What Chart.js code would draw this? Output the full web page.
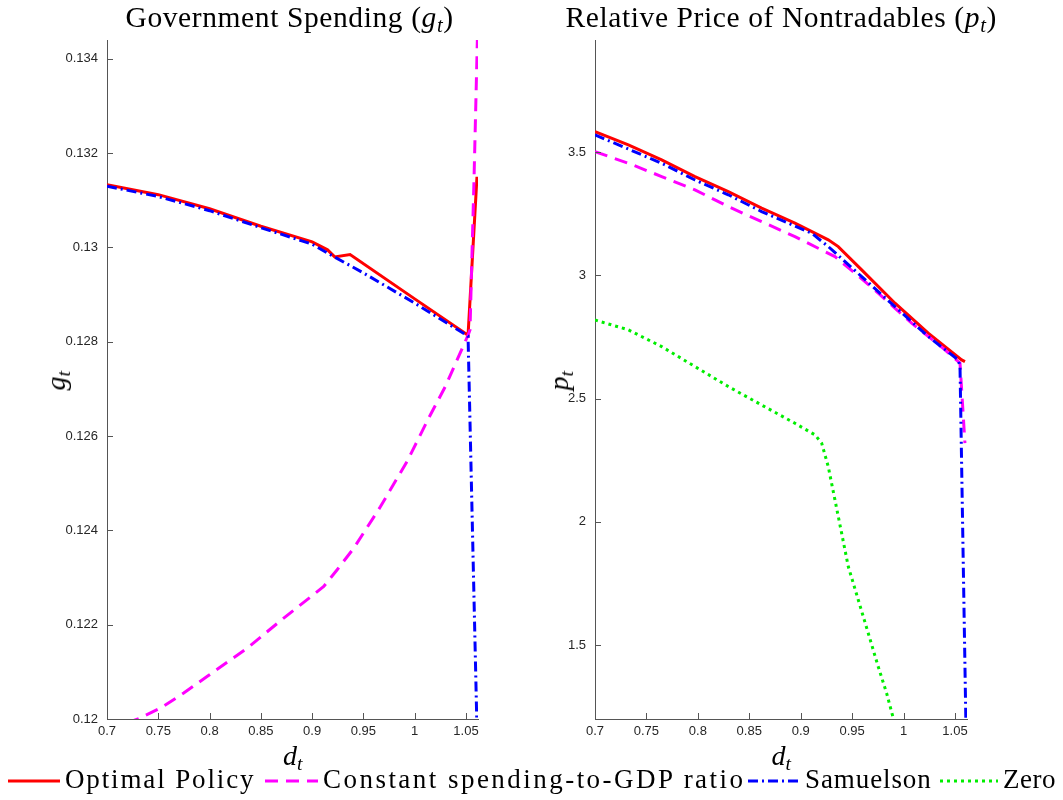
<!DOCTYPE html>
<html>
<head>
<meta charset="utf-8">
<script src="https://cdn.jsdelivr.net/npm/chart.js@4.4.1/dist/chart.umd.min.js"></script>
<style>
  html, body { margin: 0; padding: 0; background: #fff; }
  #wrap { position: relative; width: 1063px; height: 800px; overflow: hidden; background: #fff; }
  canvas { position: absolute; top: 0; }
  .tx { position: absolute; font-family: "Liberation Serif", "Times New Roman", serif; color: #000; white-space: nowrap; line-height: 1; }
  .tx sub { font-size: 70%; vertical-align: -0.25em; }
  .ttl { font-size: 29.5px; letter-spacing: 0.6px; }
  .ax { font-size: 28px; }
  .lg { font-size: 27px; letter-spacing: 0.8px; top: 766px; }
  #legend svg { position: absolute; top: 770px; }
</style>
</head>
<body>
<div id="wrap">
  <canvas id="cg" width="530" height="800" style="left:0px"></canvas>
  <canvas id="cp" width="533" height="800" style="left:530px"></canvas>

  <div class="tx ttl" id="tg">Government Spending (<i>g<sub>t</sub></i>)</div>
  <div class="tx ttl" id="tp">Relative Price of Nontradables (<i>p<sub>t</sub></i>)</div>
  <div class="tx ax" id="xg"><i>d<sub>t</sub></i></div>
  <div class="tx ax" id="xp"><i>d<sub>t</sub></i></div>
  <div class="tx ax" id="yg" style="transform: rotate(-90deg); transform-origin: center;"><i>g<sub>t</sub></i></div>
  <div class="tx ax" id="yp" style="transform: rotate(-90deg); transform-origin: center;"><i>p<sub>t</sub></i></div>
  <div id="legend"></div>
</div>

<script>
// ---- series names ----
const seriesNames = ['Optimal Policy', 'Constant spending-to-GDP ratio', 'Samuelson', 'Zero'];

// ---- tick labels ----
const dTicks = [0.7, 0.75, 0.8, 0.85, 0.9, 0.95, 1.0, 1.05];
const gTicks = [0.12, 0.122, 0.124, 0.126, 0.128, 0.13, 0.132, 0.134];
const pTicks = [1.5, 2, 2.5, 3, 3.5];

// ---- Government spending g_t against debt d_t ----
const dOptG = [0.7, 0.75, 0.8, 0.85, 0.9, 0.915, 0.922, 0.937, 1.0, 1.052, 1.0607];
const gOpt  = [0.13133, 0.13112, 0.13082, 0.13045, 0.13012, 0.12995, 0.12980, 0.12985, 0.12891, 0.12814, 0.13150];

const dConG = [0.7, 0.7309, 0.752, 0.7748, 0.7975, 0.8365, 0.8723, 0.9113, 0.9242, 0.9405, 0.9665, 0.9925, 1.0136, 1.0298, 1.052, 1.0539, 1.0556, 1.0578, 1.061, 1.0617];
const gCon  = [0.11975, 0.12001, 0.12023, 0.12055, 0.12090, 0.12150, 0.12214, 0.12281, 0.12316, 0.12362, 0.12450, 0.12546, 0.12638, 0.12705, 0.12814, 0.12825, 0.12967, 0.13143, 0.13434, 0.1350];

const dSamG = [0.7, 0.75, 0.8, 0.85, 0.9, 0.92, 0.95, 1.0, 1.052, 1.061];
const gSam  = [0.13130, 0.13108, 0.13078, 0.13042, 0.13007, 0.12982, 0.12946, 0.12882, 0.12812, 0.1195];

// ---- Relative price of nontradables p_t against debt d_t ----
const dOptP = [0.7, 0.7324, 0.7648, 0.7972, 0.8296, 0.862, 0.8944, 0.9268, 0.9365, 0.9593, 0.9917, 1.024, 1.0565, 1.0597];
const pOpt  = [3.5835, 3.5295, 3.4687, 3.4009, 3.340, 3.2726, 3.2118, 3.144, 3.1168, 3.0222, 2.887, 2.7653, 2.657, 2.650];

const dConP = [0.7, 0.7324, 0.7648, 0.7972, 0.8296, 0.862, 0.8944, 0.9204, 0.9333, 0.9528, 0.9754, 1.0079, 1.0403, 1.0549, 1.0565, 1.0581, 1.0597];
const pCon  = [3.502, 3.455, 3.401, 3.347, 3.279, 3.218, 3.157, 3.103, 3.076, 3.009, 2.928, 2.806, 2.698, 2.644, 2.535, 2.427, 2.319];

const dSamP = [0.7, 0.7648, 0.7972, 0.8296, 0.862, 0.8944, 0.9107, 0.9268, 0.9593, 0.9917, 1.024, 1.0532, 1.0549, 1.0606];
const pSam  = [3.570, 3.455, 3.387, 3.327, 3.259, 3.200, 3.171, 3.117, 2.995, 2.873, 2.752, 2.657, 2.630, 1.19];

const dZero = [0.7, 0.7324, 0.7648, 0.7972, 0.8296, 0.862, 0.8944, 0.9139, 0.9204, 0.9268, 0.9333, 0.9398, 0.9463, 0.956, 0.9657, 0.9754, 0.9836, 0.99, 0.993];
const pZero = [2.819, 2.779, 2.711, 2.630, 2.549, 2.474, 2.400, 2.353, 2.319, 2.224, 2.089, 1.954, 1.818, 1.683, 1.548, 1.412, 1.304, 1.203, 1.15];

// ---- line styles per series ----
const lineColors = ['#ff0000', '#ff00ff', '#0000ff', '#00ee00'];
const lineDashes = [[], [13, 8], [10, 4, 2, 4], [3, 4]];
const drawOrder  = [4, 3, 2, 1];

const axisColor = '#555555';
const tickFont = { family: '"Liberation Sans", Arial, Helvetica, sans-serif', size: 13 };

function pts(xs, ys) { return xs.map((x, i) => ({ x: x, y: ys[i] })); }

function series(k, xs, ys) {
  return {
    label: seriesNames[k],
    data: pts(xs, ys),
    showLine: true,
    borderColor: lineColors[k],
    backgroundColor: lineColors[k],
    borderWidth: 3,
    borderDash: lineDashes[k],
    pointRadius: 0,
    fill: false,
    clip: 0,
    order: drawOrder[k]
  };
}

function fmt(v) { return String(parseFloat(Number(v).toFixed(4))); }

// small tick marks pointing into the plot area
const innerTicks = {
  id: 'innerTicks',
  afterDraw(chart) {
    const { ctx, chartArea, scales } = chart;
    ctx.save();
    ctx.strokeStyle = axisColor;
    ctx.lineWidth = 1;
    ctx.beginPath();
    scales.x.ticks.forEach(t => {
      const px = Math.round(scales.x.getPixelForValue(t.value)) + 0.5;
      ctx.moveTo(px, chartArea.bottom);
      ctx.lineTo(px, chartArea.bottom - 6);
    });
    scales.y.ticks.forEach(t => {
      const py = Math.round(scales.y.getPixelForValue(t.value)) + 0.5;
      ctx.moveTo(chartArea.left, py);
      ctx.lineTo(chartArea.left + 6, py);
    });
    ctx.stroke();
    ctx.restore();
  }
};

function makeChart(id, datasets, yMin, yMax, yTicks, axisW, padRight) {
  return new Chart(document.getElementById(id), {
    type: 'scatter',
    data: { datasets: datasets },
    options: {
      responsive: false,
      animation: false,
      events: [],
      layout: { padding: { left: 0, right: padRight, top: 40, bottom: 0 } },
      plugins: { legend: { display: false }, tooltip: { enabled: false }, title: { display: false } },
      scales: {
        x: {
          type: 'linear', min: 0.7, max: 1.0617,
          afterBuildTicks: s => { s.ticks = dTicks.map(v => ({ value: v })); },
          afterFit: s => { s.height = 81; },
          grid: { display: false, drawTicks: false },
          border: { display: true, color: axisColor, width: 1 },
          ticks: { font: tickFont, color: '#262626', padding: 5, maxRotation: 0, autoSkip: false, callback: fmt }
        },
        y: {
          type: 'linear', min: yMin, max: yMax,
          afterBuildTicks: s => { s.ticks = yTicks.map(v => ({ value: v })); },
          afterFit: s => { s.width = axisW; },
          grid: { display: false, drawTicks: false },
          border: { display: true, color: axisColor, width: 1 },
          ticks: { font: tickFont, color: '#262626', padding: 9, autoSkip: false, callback: fmt }
        }
      }
    },
    plugins: [innerTicks]
  });
}

const chartG = makeChart('cg', [
  series(0, dOptG, gOpt),
  series(1, dConG, gCon),
  series(2, dSamG, gSam)
], 0.12, 0.1344, gTicks, 107, 52);

const chartP = makeChart('cp', [
  series(0, dOptP, pOpt),
  series(1, dConP, pCon),
  series(2, dSamP, pSam),
  series(3, dZero, pZero)
], 1.2, 3.955, pTicks, 65, 96);

// ---- place titles and axis labels over each plot area ----
function place(id, cx, top) {
  const el = document.getElementById(id);
  el.style.left = (cx - el.offsetWidth / 2) + 'px';
  el.style.top = top + 'px';
}
function placeCentered(id, cx, cy) {
  const el = document.getElementById(id);
  el.style.left = (cx - el.offsetWidth / 2) + 'px';
  el.style.top = (cy - el.offsetHeight / 2) + 'px';
}
const aG = chartG.chartArea, aP = chartP.chartArea;
const midG = (aG.left + aG.right) / 2, midP = 530 + (aP.left + aP.right) / 2;
place('tg', midG - 3, 3);
place('tp', midP, 3);
place('xg', midG, 742);
place('xp', midP, 742);
placeCentered('yg', 57, 380);
placeCentered('yp', 560, 380);

// ---- legend row across both panels: [line start, line end, text start, text end] ----
const legendX = [[8, 60, 65, 255], [265, 318, 323, 745], [748, 800, 805, 932], [940, 998, 1003, 1056]];
const legend = document.getElementById('legend');
seriesNames.forEach((name, k) => {
  const [x1, x2, tx, tEnd] = legendX[k];
  const svg = document.createElementNS('http://www.w3.org/2000/svg', 'svg');
  svg.setAttribute('width', x2 - x1);
  svg.setAttribute('height', 22);
  svg.style.left = x1 + 'px';
  const ln = document.createElementNS('http://www.w3.org/2000/svg', 'line');
  ln.setAttribute('x1', 0); ln.setAttribute('x2', x2 - x1);
  ln.setAttribute('y1', 11); ln.setAttribute('y2', 11);
  ln.setAttribute('stroke', lineColors[k]);
  ln.setAttribute('stroke-width', 3);
  if (lineDashes[k].length) ln.setAttribute('stroke-dasharray', lineDashes[k].join(' '));
  svg.appendChild(ln);
  legend.appendChild(svg);
  const t = document.createElement('div');
  t.className = 'tx lg';
  t.style.left = tx + 'px';
  t.textContent = name;
  legend.appendChild(t);
  // spread the letters so each entry fills its slot in the row
  const extra = (tEnd - tx) - t.offsetWidth;
  t.style.letterSpacing = (0.8 + extra / name.length) + 'px';
});
</script>
</body>
</html>
